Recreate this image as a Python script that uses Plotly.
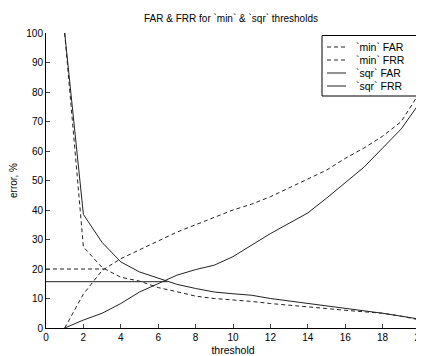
import plotly.graph_objects as go

threshold = list(range(1, 21))
min_far = [0, 11.5, 19.5, 23.5, 26.5, 29.5, 32.5, 35, 37.5, 40, 42, 44.5, 47.5, 50.5, 53.5, 57.5, 61, 65, 70, 80]
min_frr = [100, 27.5, 20.5, 17.2, 15.9, 13.7, 12.3, 10.8, 10, 9.6, 9, 8.3, 7.8, 7.2, 6.6, 6, 5.5, 5, 4, 2.7]
sqr_far = [0, 2.7, 5, 8.3, 12.2, 15, 17.9, 19.8, 21.3, 24.2, 28, 32, 35.5, 39, 44, 49.4, 54.5, 61, 67.5, 76.5]
sqr_frr = [100, 38.5, 29, 22.4, 19, 17, 14.8, 13.4, 12.2, 11.6, 11.1, 10, 9.2, 8.3, 7.5, 6.8, 6, 5, 4, 3]

# equal-error-rate markers (horizontal lines from 0 to crossing)
min_eer_x = [0, 3.1]
min_eer_y = [20, 20]
sqr_eer_x = [0, 6.5]
sqr_eer_y = [15.7, 15.7]

series_names = ["`min` FAR", "`min` FRR", "`sqr` FAR", "`sqr` FRR"]
series_dashed = [True, True, False, False]

FONT = "Liberation Sans, Arial, sans-serif"
DASH = "4px,3px"
LC = "#222222"

# figure geometry (page body has an 8px margin)
W, H = 416, 348
ML, MR, MT, MB = 38, 4, 25, 28
PW, PH = W - ML - MR, H - MT - MB
OFF = 8


def px_x(sx):
    return (sx - OFF - ML) / PW


def px_y(sy):
    return 1 - (sy - OFF - MT) / PH


fig = go.Figure()
for name, ys, dashed in zip(series_names, [min_far, min_frr, sqr_far, sqr_frr], series_dashed):
    fig.add_trace(go.Scatter(x=threshold, y=ys, mode="lines", name=name, showlegend=False,
                             line=dict(color=LC, width=1, dash=DASH if dashed else "solid")))
fig.add_trace(go.Scatter(x=min_eer_x, y=min_eer_y, mode="lines", showlegend=False,
                         line=dict(color=LC, width=1, dash=DASH)))
fig.add_trace(go.Scatter(x=sqr_eer_x, y=sqr_eer_y, mode="lines", showlegend=False,
                         line=dict(color=LC, width=1)))

# legend box drawn as shapes/annotations (MATLAB style compact legend)
shapes = [dict(type="rect", xref="paper", yref="paper",
               x0=px_x(322), x1=px_x(417), y0=px_y(96), y1=px_y(35.5),
               line=dict(color="black", width=1), fillcolor="white", layer="above")]
annotations = []
row_y = [47, 60, 73, 86]
for name, dashed, ry in zip(series_names, series_dashed, row_y):
    shapes.append(dict(type="line", xref="paper", yref="paper",
                       x0=px_x(327), x1=px_x(346), y0=px_y(ry), y1=px_y(ry),
                       line=dict(color=LC, width=1, dash=DASH if dashed else "solid"),
                       layer="above"))
    annotations.append(dict(text=name, xref="paper", yref="paper",
                            x=px_x(354), y=px_y(ry), xanchor="left", yanchor="middle",
                            showarrow=False, font=dict(size=10.5, family=FONT, color="black")))

fig.update_layout(
    width=W, height=H,
    margin=dict(l=ML, r=MR, t=MT, b=MB, autoexpand=False),
    paper_bgcolor="white", plot_bgcolor="white",
    font=dict(family=FONT, size=10, color="black"),
    title=dict(text="FAR & FRR for `min` & `sqr` thresholds", xref="container", x=(231 - OFF) / W,
               xanchor="center", yref="container", y=1 - (18 - OFF) / H, yanchor="middle",
               font=dict(size=10)),
    xaxis=dict(range=[0, 20], tickvals=list(range(0, 21, 2)), ticks="inside", ticklen=4,
               showline=True, linecolor="black", linewidth=1, showgrid=False, zeroline=False,
               automargin=False, ticklabeloverflow="allow",
               title=dict(text="threshold", standoff=6, font=dict(size=10.5))),
    yaxis=dict(range=[0, 100], tickvals=list(range(0, 101, 10)), ticks="inside", ticklen=4,
               showline=True, linecolor="black", linewidth=1, showgrid=False, zeroline=False,
               automargin=False, ticklabeloverflow="allow",
               title=dict(text="error, %", standoff=6, font=dict(size=10))),
    shapes=shapes,
    annotations=annotations,
    showlegend=False,
)

fig.write_html("out.html")
